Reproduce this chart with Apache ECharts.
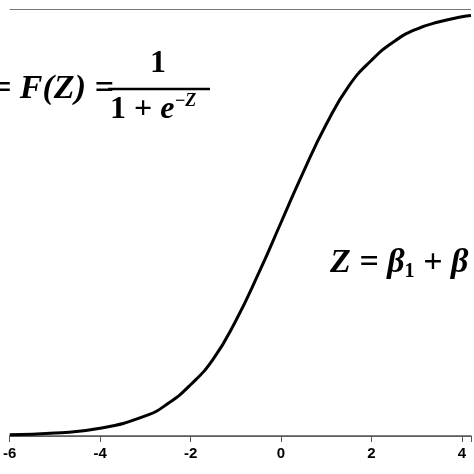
<!DOCTYPE html>
<html>
<head>
<meta charset="UTF-8">
<script src="https://cdn.jsdelivr.net/npm/echarts@6/dist/echarts.min.js"></script>
<style>body{margin:0}#main{width:474px;height:474px}</style>
</head>
<body>
<div id="main"></div>
<script>
var zValues = [-6, -5, -4, -3, -2.5, -2, -1.5, -1, -0.5, 0, 0.5, 1, 1.5, 2, 2.5, 3, 3.5, 4, 4.2];
var fValues = [0.003, 0.007, 0.018, 0.047, 0.076, 0.12, 0.18, 0.27, 0.38, 0.5, 0.62, 0.73, 0.82, 0.88, 0.924, 0.953, 0.97, 0.982, 0.985];
var xTicks = [-6, -4, -2, 0, 2, 4];

var pts = zValues.map(function (z, i) { return [z, fValues[i]]; });
var font = '"Liberation Serif", "DejaVu Serif", serif';
var myChart = echarts.init(document.getElementById('main'));
myChart.setOption({
  animation: false,
  grid: { left: 3, right: 0, top: 9, bottom: 38 },
  xAxis: {
    type: 'value', min: -6, max: 4.2, interval: 2,
    axisLine: { lineStyle: { color: '#555', width: 1.5 } },
    axisTick: { length: 6, lineStyle: { color: '#555' } },
    splitLine: { show: false },
    axisLabel: {
      color: '#000', fontWeight: 'bold', fontSize: 15, fontFamily: 'Arial', margin: 10,
      formatter: function (v) { return xTicks.indexOf(v) >= 0 ? String(v) : ''; }
    }
  },
  yAxis: {
    type: 'value', min: 0, max: 1, interval: 1, show: true,
    axisLine: { show: false }, axisTick: { show: false }, axisLabel: { show: false },
    splitLine: { lineStyle: { color: '#777', width: 1.2 } }
  },
  series: [{
    type: 'line', data: pts, smooth: true, symbol: 'none',
    lineStyle: { color: '#000', width: 3 }
  }],
  graphic: [
    { type: 'text', left: -8, top: 72, style: { text: '= F(Z) =', font: 'italic bold 34px ' + font, fill: '#000' } },
    { type: 'text', left: 150, top: 48, style: { text: '1', font: 'bold 32px ' + font, fill: '#000' } },
    { type: 'line', shape: { x1: 108, y1: 89, x2: 210, y2: 89 }, style: { stroke: '#000', lineWidth: 2.5 } },
    { type: 'text', left: 110, top: 92, style: {
      text: '{n|1 + }{e|e}{s|−Z}',
      rich: {
        n: { font: 'bold 32px ' + font, fill: '#000' },
        e: { font: 'italic bold 32px ' + font, fill: '#000' },
        s: { font: 'italic bold 18px ' + font, fill: '#000', verticalAlign: 'top', padding: [0, 0, 18, 0] }
      }
    } },
    { type: 'text', left: 330, top: 246, style: {
      text: '{z|Z = β}{sub|1}{z| + β}',
      rich: {
        z: { font: 'italic bold 34px ' + font, fill: '#000' },
        sub: { font: 'bold 20px ' + font, fill: '#000', padding: [18, 0, 0, 0] }
      }
    } }
  ]
});
</script>
</body>
</html>
